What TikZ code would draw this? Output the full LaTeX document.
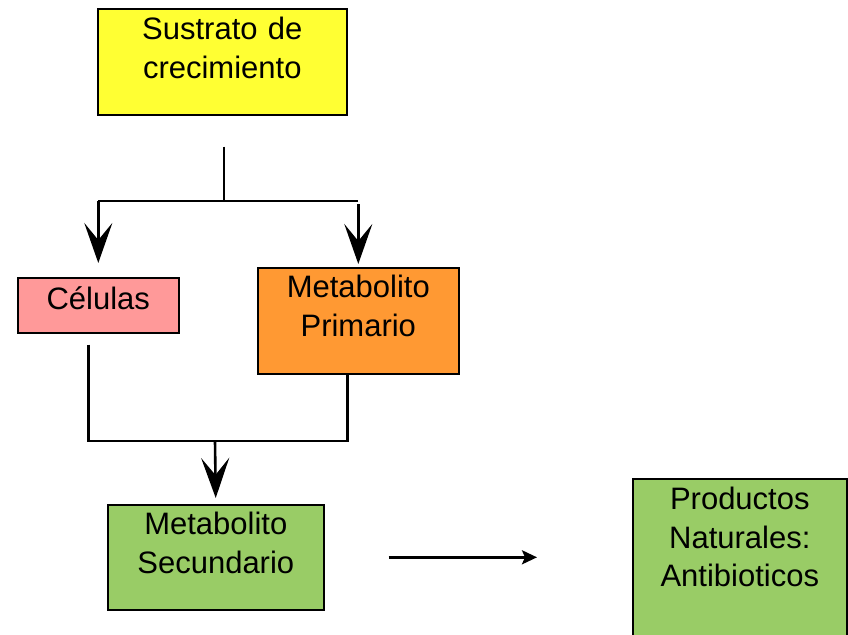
\documentclass[tikz,border=0pt]{standalone}
\usepackage{fontspec}
\setmainfont{Liberation Sans}
\usetikzlibrary{arrows.meta}

\definecolor{sustratoyellow}{HTML}{FFFF33}
\definecolor{celulaspink}{HTML}{FF9999}
\definecolor{primarioorange}{HTML}{FF9933}
\definecolor{secundariogreen}{HTML}{99CC66}

\begin{document}
\begin{tikzpicture}[x=1pt, y=-1pt,
						box/.style={draw=black, line width=1.6pt, rectangle, anchor=north west, inner sep=0pt, align=center, font=\fontsize{31}{38.5}\selectfont},
						conn/.style={line width=2.6pt, draw=black},
						arrow/.style={conn, -{Stealth[length=40pt, width=28pt, inset=17pt]}},
						smallarrow/.style={conn, -{Stealth[length=15pt, width=14pt, inset=3pt]}}]
						
						\useasboundingbox (0,0) rectangle (848,634);
						
						\node[box, fill=sustratoyellow, text width=249pt, text height=31pt, text depth=75pt] (sustrato) at (97,8) {Sustrato de\\crecimiento};
						\node[box, fill=celulaspink, text width=161pt, text height=32pt, text depth=23pt] (celulas) at (17,277) {Células};
						\node[box, fill=primarioorange, text width=201pt, text height=30pt, text depth=76pt] (primario) at (257,267) {Metabolito\\Primario};
						\node[box, fill=secundariogreen, text width=216pt, text height=30pt, text depth=75pt] (secundario) at (107,504) {Metabolito\\Secundario};
						\node[box, fill=secundariogreen, text width=214pt, text height=31pt, text depth=139pt] (productos) at (632,478) {Productos\\Naturales:\\Antibioticos};
						
						\coordinate (split) at (224,201);
						\coordinate (join) at (215,441);
						
						\draw[conn, shorten <=31pt] (sustrato.south -| split) -- (split);
						\draw[conn] (celulas.north |- split) -- (primario.north |- split);
						\draw[arrow, shorten >=14pt] (celulas.north |- split) -- (celulas.north);
						\draw[arrow, shorten <=3pt, shorten >=3pt] (primario.north |- split) -- (primario.north);
						\draw[conn, shorten <=11pt] ([xshift=-10pt]celulas.south) |- ([xshift=-11pt]primario.south |- join) -- ([xshift=-11pt]primario.south);
						\draw[arrow, shorten >=6pt] (join) -- (secundario.north);
						\draw[smallarrow, shorten <=64pt, shorten >=95pt] (secundario.east) -- (secundario.east -| productos.west);
					\end{tikzpicture}
\end{document}
